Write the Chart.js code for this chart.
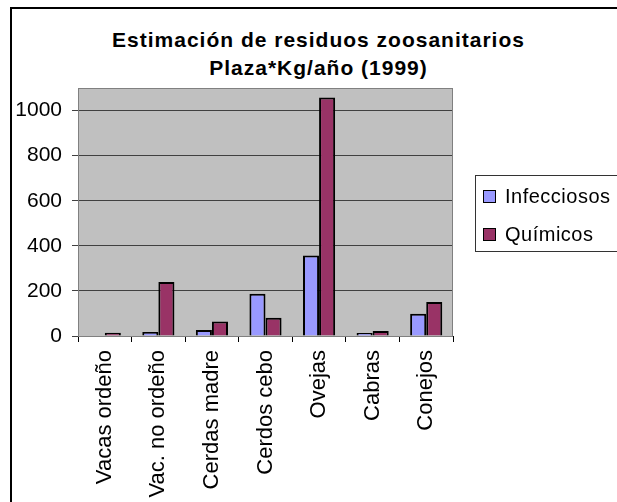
<!DOCTYPE html>
<html>
<head>
<meta charset="utf-8">
<script src="https://cdn.jsdelivr.net/npm/chart.js@4/dist/chart.umd.min.js"></script>
<style>
  html, body { margin: 0; padding: 0; background: #fff; overflow: hidden; }
  #wrap { position: relative; width: 617px; height: 502px; overflow: hidden; }
  #frame { position: absolute; left: 10px; top: 7px; width: 700px; height: 600px; border: 2px solid #000; box-sizing: border-box; }
  #title { position: absolute; left: 10px; width: 617px; top: 26px; text-align: center; font: bold 21px "Liberation Sans", Arial, sans-serif; letter-spacing: 1px; line-height: 28px; color: #000; }
  #legend { position: absolute; left: 475px; top: 175px; width: 150px; height: 77px; border: 1px solid #333; box-sizing: border-box; font: 20px "Liberation Sans", Arial, sans-serif; letter-spacing: 0.5px; }
  .item { position: absolute; left: 7px; height: 24px; line-height: 24px; }
  .sw { display: inline-block; width: 11px; height: 11px; border: 1px solid #000; margin-right: 9px; vertical-align: 0px; }
  canvas { position: absolute; left: 0; top: 0; }
</style>
</head>
<body>
<div id="wrap">
  <div id="frame"></div>
  <div id="title">Estimación de residuos zoosanitarios<br>Plaza*Kg/año (1999)</div>
  <canvas id="chart" width="617" height="502"></canvas>
  <div id="legend"></div>
</div>
<script>
const categories = ["Vacas ordeño", "Vac. no ordeño", "Cerdas madre", "Cerdos cebo", "Ovejas", "Cabras", "Conejos"];
const infecciosos = [0, 18, 27, 187, 357, 13, 99];
const quimicos = [14, 240, 64, 81, 1058, 22, 151];
const seriesNames = ["Infecciosos", "Químicos"];
const seriesColors = ["#9999FF", "#993366"];
const yTicks = [0, 200, 400, 600, 800, 1000];

// gray plot area with a border, like the old spreadsheet chart
const plotBackground = {
  id: 'plotBackground',
  beforeDraw(chart) {
    const { ctx, chartArea: a } = chart;
    ctx.save();
    ctx.fillStyle = '#C0C0C0';
    ctx.fillRect(a.left, a.top, a.right - a.left, a.bottom - a.top);
    ctx.restore();
  },
  afterDatasetsDraw(chart) {
    const { ctx, chartArea: a } = chart;
    ctx.save();
    ctx.strokeStyle = '#808080';
    ctx.lineWidth = 1;
    ctx.strokeRect(a.left + 0.5, a.top + 0.5, a.right - a.left - 1, a.bottom - a.top);
    ctx.restore();
  }
};

const chart = new Chart(document.getElementById('chart'), {
  type: 'bar',
  data: {
    labels: categories,
    datasets: [
      { label: seriesNames[0], data: infecciosos, backgroundColor: seriesColors[0], borderColor: '#000', borderWidth: 2 },
      { label: seriesNames[1], data: quimicos, backgroundColor: seriesColors[1], borderColor: '#000', borderWidth: 2 }
    ]
  },
  options: {
    responsive: false,
    animation: false,
    layout: { padding: { top: 88, right: 164, left: 0, bottom: 0 } },
    datasets: { bar: { categoryPercentage: 0.6, barPercentage: 1 } },
    plugins: { legend: { display: false }, title: { display: false }, tooltip: { enabled: false } },
    scales: {
      x: {
        afterFit(scale) { scale.height = 166; },
        grid: { display: true, drawOnChartArea: false, offset: true, color: '#000', tickLength: 6 },
        border: { color: '#000', width: 1 },
        ticks: { minRotation: 90, maxRotation: 90, padding: 8, color: '#000', font: { family: '"Liberation Sans", Arial', size: 22 } }
      },
      y: {
        min: 0,
        max: 1100,
        afterFit(scale) { scale.width = 78; },
        afterBuildTicks(scale) { scale.ticks = yTicks.map(v => ({ value: v })); },
        grid: { color: '#404040', tickLength: 6 },
        border: { color: '#000', width: 1 },
        ticks: { padding: 10, color: '#000', font: { family: '"Liberation Sans", Arial', size: 21 }, callback: v => String(v) }
      }
    }
  },
  plugins: [plotBackground]
});

// legend built from the datasets
const legend = document.getElementById('legend');
chart.data.datasets.forEach((ds, i) => {
  const row = document.createElement('div');
  row.className = 'item';
  row.style.top = (8 + i * 38) + 'px';
  row.innerHTML = '<span class="sw" style="background:' + ds.backgroundColor + '"></span>' + ds.label;
  legend.appendChild(row);
});
</script>
</body>
</html>
